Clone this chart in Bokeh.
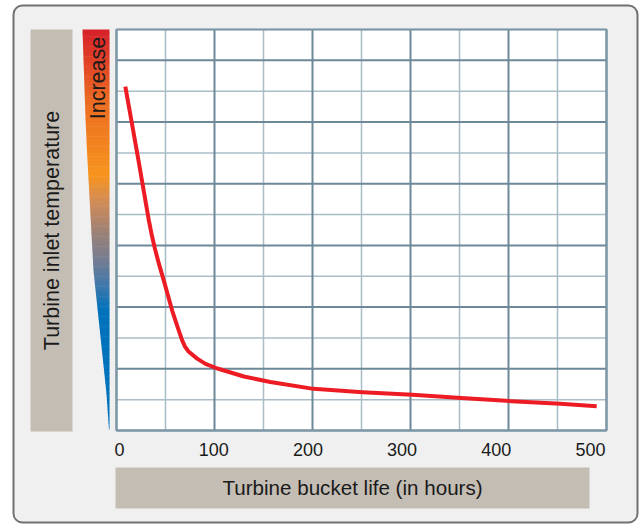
import numpy as np
from bokeh.plotting import figure
from bokeh.models import Range1d
from bokeh.core.properties import value
from bokeh.embed import file_html
from bokeh.resources import INLINE

# ---- data ----
hours = [9, 15.5, 22.5, 33, 35.7, 39.1, 43.3, 48.3, 56.8, 62.2, 67, 69.9, 73.5, 82.3, 90.8,
         103, 130, 157, 201, 251, 302, 352, 403, 453, 490]
temperature = [11.15, 10.0, 8.74, 6.81, 6.38, 5.91, 5.40, 4.86, 3.89, 3.37, 2.92, 2.72, 2.56,
               2.33, 2.16, 2.01, 1.75, 1.57, 1.35, 1.24, 1.16, 1.05, 0.95, 0.87, 0.79]
x_major = [0, 100, 200, 300, 400, 500]
x_minor = [50, 150, 250, 350, 450]
y_major = [0, 2, 4, 6, 8, 10, 12]
y_minor = [1, 3, 5, 7, 9, 11, 13]
x_tick_labels = ["0", "100", "200", "300", "400", "500"]
y_title = "Turbine inlet temperature"
x_title = "Turbine bucket life (in hours)"
arrow_text = "Increase"

# gradient colour stops (canvas px from top, colour)
grad_stops = [(29, "#d7202a"), (100, "#eb6b22"), (175, "#f7941d"), (200, "#d38c55"),
              (230, "#a08274"), (260, "#747c92"), (285, "#3f77aa"), (310, "#0072bc"),
              (429, "#0072bc")]

FONT = value("Liberation Sans")
W, H = 643, 525
# grid area on the canvas
GL, GR, GT, GB = 116, 606, 29, 430
X0, X1, Y0, Y1 = 0, 500, 0, 13

# canvas coordinates: x = px from left, y = px from top
p = figure(width=W, height=H, x_range=Range1d(0, W), y_range=Range1d(H, 0),
           x_axis_location=None, y_axis_location=None, toolbar_location=None,
           output_backend="svg", min_border=0,
           background_fill_color="white", border_fill_color="white")
p.grid.visible = False
p.outline_line_color = None

# data ranges mapped onto the grid area
kx = (GR - GL) / (X1 - X0)
ky = (GB - GT) / (Y1 - Y0)
p.extra_x_ranges = {
    "hx": Range1d(X0 - GL / kx, X0 + (W - GL) / kx),
    # tick labels sit slightly inside the grid lines in the original
    "lab": Range1d(0 - 119 / 0.942, 0 + (W - 119) / 0.942),
}
p.extra_y_ranges = {"ty": Range1d(Y0 - (H - GB) / ky, Y1 + GT / ky)}
D = dict(x_range_name="hx", y_range_name="ty")

# outer rounded panel
p.quad(left=13, right=637, top=5, bottom=522, fill_color="#f0f0f0", line_color="#707173",
       line_width=2, border_radius=9)

# grey title boxes
p.quad(left=[30, 115], right=[72, 589], top=[29, 467], bottom=[431, 508],
       fill_color="#c4bdb4", line_color=None)

# plot area
p.quad(left=X0, right=X1, bottom=Y0, top=Y1, fill_color="white", line_color=None, **D)
p.segment(x0=x_minor, y0=Y0, x1=x_minor, y1=Y1, line_color="#a9bdc8", line_width=1.5, **D)
p.segment(x0=X0, y0=y_minor, x1=X1, y1=y_minor, line_color="#a9bdc8", line_width=1.5, **D)
p.segment(x0=x_major, y0=Y0, x1=x_major, y1=Y1, line_color="#6d8898", line_width=2, **D)
p.segment(x0=X0, y0=y_major, x1=X1, y1=y_major, line_color="#6d8898", line_width=2, **D)
p.quad(left=X0, right=X1, bottom=Y0, top=Y1, fill_color=None, line_color="#7d97a6",
       line_width=2, **D)

# curve
p.line(hours, temperature, line_color="#ed1c24", line_width=4, line_join="round", **D)

# tick labels
p.text(x=x_major, y=[Y0] * len(x_major), text=x_tick_labels, x_range_name="lab", y_range_name="ty",
       y_offset=19, text_align="center", text_baseline="middle", text_font=FONT,
       text_font_size=value("18px"), text_color="#1a1a1a")

# gradient wedge
def hex2rgb(h):
    return np.array([int(h[i:i + 2], 16) for i in (1, 3, 5)], dtype=float)

sp = np.array([s[0] for s in grad_stops], dtype=float)
sc = np.array([hex2rgb(s[1]) for s in grad_stops])
edge_y = [29, 117, 150, 270, 393, 429]
edge_x = [82, 85, 86.5, 93, 106, 108.5]
right_x = 109
ys = np.linspace(29, 429, 121)
xs_list, ys_list, cols = [], [], []
for a, b in zip(ys[:-1], ys[1:]):
    m = 0.5 * (a + b)
    rgb = [np.interp(m, sp, sc[:, k]) for k in range(3)]
    cols.append("#%02x%02x%02x" % tuple(int(round(v)) for v in rgb))
    b2 = min(b + 0.6, 429)
    xs_list.append([float(np.interp(a, edge_y, edge_x)), right_x, right_x, float(np.interp(b2, edge_y, edge_x))])
    ys_list.append([float(a), float(a), float(b2), float(b2)])
p.patches(xs_list, ys_list, fill_color=cols, line_color=None)

# titles
p.text(x=[51], y=[230], text=[y_title], angle=np.pi / 2, text_align="center",
       text_baseline="middle", text_font=FONT, text_font_size=value("21.5px"), text_color="#1a1a1a")
p.text(x=[97], y=[77.5], text=[arrow_text], angle=np.pi / 2, text_align="center",
       text_baseline="middle", text_font=FONT, text_font_size=value("21.5px"), text_color="#1a1a1a")
p.text(x=[352], y=[487], text=[x_title], text_align="center",
       text_baseline="middle", text_font=FONT, text_font_size=value("20.6px"), text_color="#1a1a1a")

open("out.html", "w").write(file_html(p, INLINE))
